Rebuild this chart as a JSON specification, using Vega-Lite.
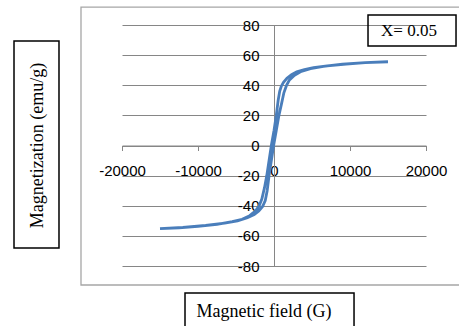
{
  "$schema": "https://vega.github.io/schema/vega-lite/v6.json",
  "width": 304,
  "height": 241,
  "autosize": {"type": "none"},
  "padding": {"left": 122, "top": 25, "right": 33, "bottom": 60},
  "background": "white",
  "config": {"view": {"stroke": null}, "font": "Liberation Sans"},
  "datasets": {
    "loop": [
      {"i": 0, "H": 15000, "M": 55.6}, {"i": 1, "H": 12000, "M": 55.0}, {"i": 2, "H": 9500, "M": 54.1},
      {"i": 3, "H": 7000, "M": 52.9}, {"i": 4, "H": 5200, "M": 51.7}, {"i": 5, "H": 4000, "M": 50.4},
      {"i": 6, "H": 3000, "M": 48.9}, {"i": 7, "H": 2300, "M": 47.0}, {"i": 8, "H": 1700, "M": 44.6},
      {"i": 9, "H": 1250, "M": 42.0}, {"i": 10, "H": 950, "M": 39.2}, {"i": 11, "H": 750, "M": 36},
      {"i": 12, "H": 550, "M": 30}, {"i": 13, "H": 300, "M": 20}, {"i": 14, "H": 0, "M": 10},
      {"i": 15, "H": -350, "M": 0}, {"i": 16, "H": -650, "M": -10}, {"i": 17, "H": -950, "M": -20},
      {"i": 18, "H": -1250, "M": -28}, {"i": 19, "H": -1600, "M": -35.5}, {"i": 20, "H": -1950, "M": -40},
      {"i": 21, "H": -2450, "M": -43.5}, {"i": 22, "H": -3200, "M": -46.6}, {"i": 23, "H": -4200, "M": -49},
      {"i": 24, "H": -5500, "M": -50.6}, {"i": 25, "H": -7500, "M": -52.3}, {"i": 26, "H": -10000, "M": -53.7},
      {"i": 27, "H": -12500, "M": -54.6}, {"i": 28, "H": -15000, "M": -55.2},
      {"i": 29, "H": -12000, "M": -54.4}, {"i": 30, "H": -9000, "M": -53.1}, {"i": 31, "H": -6500, "M": -51.6},
      {"i": 32, "H": -4800, "M": -50}, {"i": 33, "H": -3500, "M": -48}, {"i": 34, "H": -2600, "M": -45.8},
      {"i": 35, "H": -2000, "M": -43.5}, {"i": 36, "H": -1500, "M": -40.5}, {"i": 37, "H": -1150, "M": -36.5},
      {"i": 38, "H": -900, "M": -30}, {"i": 39, "H": -650, "M": -20}, {"i": 40, "H": -350, "M": -10},
      {"i": 41, "H": -50, "M": 0}, {"i": 42, "H": 300, "M": 10}, {"i": 43, "H": 650, "M": 20},
      {"i": 44, "H": 1000, "M": 28}, {"i": 45, "H": 1300, "M": 35}, {"i": 46, "H": 1650, "M": 40},
      {"i": 47, "H": 2000, "M": 43.3}, {"i": 48, "H": 2700, "M": 46.6}, {"i": 49, "H": 3600, "M": 49.2},
      {"i": 50, "H": 4800, "M": 51}, {"i": 51, "H": 6500, "M": 52.5}, {"i": 52, "H": 9000, "M": 54},
      {"i": 53, "H": 12000, "M": 55.0}, {"i": 54, "H": 15000, "M": 55.6}
    ],
    "frame": [{"x0": -25395, "x1": 25800, "y0": 91.9, "y1": -92.6}],
    "titleboxes": [
      {"x0": -34210, "x1": -28290, "y0": 69.4, "y1": -68.1},
      {"x0": -11710, "x1": 10530, "y0": -97.9, "y1": -126},
      {"x0": 12370, "x1": 23950, "y0": 86.6, "y1": 66.1}
    ],
    "note": [{"H": 17760, "M": 76, "text": "X= 0.05"}]
  },
  "resolve": {"scale": {"x": "shared", "y": "shared"}},
  "layer": [
    {
      "data": {"name": "loop"},
      "mark": {"type": "line", "color": "#4a7ebb", "strokeWidth": 2.8, "clip": false},
      "encoding": {
        "x": {
          "field": "H", "type": "quantitative",
          "scale": {"domain": [-20000, 20000], "nice": false, "zero": false},
          "axis": {
            "orient": "bottom", "offset": -120.5, "tickCount": 20,
            "labelExpr": "toString(datum.value)",
            "values": [-20000, -10000, 0, 10000, 20000],
            "grid": false, "domainColor": "#868686", "domainWidth": 1,
            "tickColor": "#868686", "tickSize": 5,
            "labelPadding": 13, "labelFontSize": 15, "labelColor": "#000000",
            "labelFont": "Liberation Sans", "labelFlush": false, "labelOverlap": false,
            "title": "Magnetic field (G)", "titleFont": "Liberation Serif", "titleFontSize": 18,
            "titleFontWeight": "normal", "titleColor": "#000000",
            "titleX": 141.5, "titleY": 166, "titleAlign": "center", "titleBaseline": "middle"
          }
        },
        "y": {
          "field": "M", "type": "quantitative",
          "scale": {"domain": [-80, 80], "nice": false, "zero": false},
          "axis": {
            "orient": "left", "offset": -152, "tickCount": 20,
            "labelExpr": "toString(datum.value)",
            "values": [-80, -60, -40, -20, 0, 20, 40, 60, 80],
            "grid": true, "gridColor": "#868686", "gridWidth": 1,
            "domainColor": "#868686", "domainWidth": 1,
            "ticks": false, "tickSize": 0,
            "labelPadding": 15, "labelFontSize": 15, "labelColor": "#000000",
            "labelFont": "Liberation Sans", "labelFlush": false, "labelOverlap": false,
            "title": "Magnetization (emu/g)", "titleFont": "Liberation Serif", "titleFontSize": 18,
            "titleFontWeight": "normal", "titleColor": "#000000", "titleAngle": 270,
            "titleX": -237, "titleY": 120, "titleAlign": "center", "titleBaseline": "middle"
          }
        },
        "order": {"field": "i", "type": "quantitative"}
      }
    },
    {
      "data": {"name": "frame"},
      "mark": {"type": "rect", "fill": null, "stroke": "#a6a6a6", "strokeWidth": 1.3, "clip": false},
      "encoding": {
        "x": {"field": "x0", "type": "quantitative", "scale": {"domain": [-20000, 20000], "nice": false, "zero": false}},
        "x2": {"field": "x1"},
        "y": {"field": "y0", "type": "quantitative", "scale": {"domain": [-80, 80], "nice": false, "zero": false}},
        "y2": {"field": "y1"}
      }
    },
    {
      "data": {"name": "titleboxes"},
      "mark": {"type": "rect", "fill": null, "stroke": "#000000", "strokeWidth": 1.5, "clip": false},
      "encoding": {
        "x": {"field": "x0", "type": "quantitative", "scale": {"domain": [-20000, 20000], "nice": false, "zero": false}},
        "x2": {"field": "x1"},
        "y": {"field": "y0", "type": "quantitative", "scale": {"domain": [-80, 80], "nice": false, "zero": false}},
        "y2": {"field": "y1"}
      }
    },
    {
      "data": {"name": "note"},
      "mark": {"type": "text", "font": "Liberation Serif", "fontSize": 17, "color": "#000000", "align": "center", "baseline": "middle"},
      "encoding": {
        "x": {"field": "H", "type": "quantitative", "scale": {"domain": [-20000, 20000], "nice": false, "zero": false}},
        "y": {"field": "M", "type": "quantitative", "scale": {"domain": [-80, 80], "nice": false, "zero": false}},
        "text": {"field": "text"}
      }
    }
  ]
}
